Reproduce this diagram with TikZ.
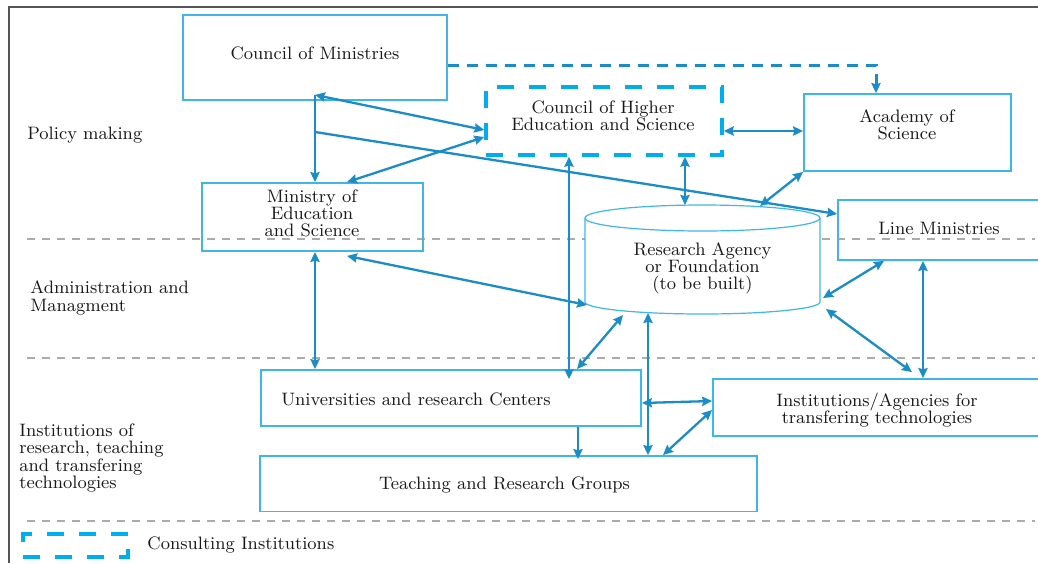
\documentclass[tikz,border=0pt]{standalone}
\usetikzlibrary{arrows.meta}

\definecolor{boxblue}{HTML}{3DB7EA}
\definecolor{arrowblue}{HTML}{1A8CC7}
\definecolor{consult}{HTML}{00AEEF}
\definecolor{sepgray}{HTML}{ABABAB}
\definecolor{framegray}{HTML}{555555}

\tikzset{
  boxnode/.style={draw=boxblue, line width=0.9pt, inner sep=0pt},
  consultbox/.style={draw=consult, line width=1.7pt, dash pattern=on 8.5pt off 7.5pt, inner sep=0pt},
  txt/.style={font=\fontsize{9}{8.6}\selectfont, text=black!90, align=center, inner sep=0pt},
  link/.style={arrowblue, line width=1.15pt, {Stealth[length=5pt,width=4.6pt,inset=0.6pt]}-{Stealth[length=5pt,width=4.6pt,inset=0.6pt]}},
  onelink/.style={arrowblue, line width=1.15pt, -{Stealth[length=5pt,width=4.6pt,inset=0.6pt]}},
  sepline/.style={sepgray, line width=0.7pt, dash pattern=on 4pt off 3.5pt},
}

\begin{document}
\begin{tikzpicture}[x=0.5pt, y=0.5pt]
  \useasboundingbox (0,0) rectangle (1038,-563);
  \draw [framegray, line width=1pt] (8.5,-563) -- (8.5,-6.5) -- (1038,-6.5);
  \foreach \y in {239,358,521}
    \draw [sepline] (27,-\y) -- (1035,-\y);

  % levels
  \node [txt, anchor=west] (lvlpol) at (27,-135) {Policy making};
  \node [txt, anchor=west, align=left] (lvladm) at (30,-298) {Administration and\\Managment};
  \node [txt, anchor=west, align=left] (lvlinst) at (19,-458)
    {Institutions of\\research, teaching\\and transfering\\technologies};

  % boxes
  \node [boxnode, minimum width=132pt, minimum height=42.5pt] (com) at (315,-57.5) {};
  \node [txt] (comtxt) at (315,-53) {Council of Ministries};
  \node [consultbox, minimum width=118pt, minimum height=34pt] (ches) at (604,-121) {};
  \node [txt] (chestxt) at (603,-116) {Council of Higher\\Education and Science};
  \node [boxnode, minimum width=103.5pt, minimum height=38.5pt] (aos) at (907.5,-132.5) {};
  \node [txt] (aostxt) at (907,-125) {Academy of\\Science};
  \node [boxnode, minimum width=105pt, minimum height=30pt] (lm) at (943,-230) {};
  \node [txt] (lmtxt) at (939,-228) {Line Ministries};
  \node [boxnode, minimum width=110.5pt, minimum height=34pt] (mes) at (312.5,-217) {};
  \node [txt] (mestxt) at (312,-213.5) {Ministry of\\Education\\and Science};
  \node [boxnode, minimum width=190pt, minimum height=28pt] (uni) at (451,-398) {};
  \node [txt] (unitxt) at (416,-399) {Universities and research Centers};
  \node [boxnode, minimum width=167.5pt, minimum height=28.5pt] (iat) at (880.5,-407.5) {};
  \node [txt] (iattxt) at (877,-410) {Institutions/Agencies for\\transfering technologies};
  \node [boxnode, minimum width=248.5pt, minimum height=27.75pt] (trg) at (508.5,-483.75) {};
  \node [txt] (trgtxt) at (504.5,-485) {Teaching and Research Groups};

  % research agency
  \draw [boxblue, line width=0.6pt, fill=white]
  (585,-218) -- (585,-302) arc (180:360:117.5 and 12) -- (820,-218);
  \draw [boxblue, line width=0.6pt, fill=white] (702.5,-218) ellipse (117.5 and 13);
  \node [txt] (ratxt) at (702.5,-268) {Research Agency\\or Foundation\\(to be built)};
  \coordinate (ra-top) at (685,-205);
  \coordinate (ra-topr) at (760,-206);
  \coordinate (ra-left) at (587,-305);
  \coordinate (ra-bot) at (623,-315);
  \coordinate (ra-botm) at (648,-313);
  \coordinate (ra-right) at (823,-298);
  \coordinate (ra-botr) at (826,-309);

  % legend
  \node [consultbox, minimum width=52.5pt, minimum height=11.5pt] (legbox) at (75.5,-545.5) {};
  \node [txt, anchor=west] (legtxt) at (147,-545) {Consulting Institutions};

  % connectors
  \draw [onelink, line width=1.5pt, dash pattern=on 5.5pt off 4pt]
  ([yshift=-3.75pt]com.east) -| ([xshift=-15.75pt]aos.north);
  \draw [arrowblue, line width=1.15pt]
  ([yshift=3pt]com.south) coordinate (cm) -- (cm |- 0,-132) coordinate (cb);
  \draw [onelink] (cb) -- (cm |- mes.north);
  \draw [link] (cm) -- ([yshift=-4.5pt]ches.west);
  \draw [onelink] (cb) -- ([yshift=8pt]lm.west);
  \draw [link] ([xshift=17.25pt]mes.north) -- ([yshift=-8pt]ches.west);
  \draw [link] ([yshift=-5pt]ches.east) -- ([yshift=0.75pt]aos.west);
  \draw [link] ([xshift=40.5pt]ches.south) -- (ra-top);
  \draw [link] (ra-topr) -- (aos.south west);
  \draw [link] ([xshift=-17.5pt]ches.south) -- ([xshift=59pt,yshift=-5pt]uni.north);
  \draw [link] ([xshift=1.25pt]mes.south) -- ([xshift=-68pt]uni.north);
  \draw [link] ([xshift=17.25pt,yshift=-2pt]mes.south) -- (ra-left);
  \draw [link] (ra-bot) -- ([xshift=63pt]uni.north);
  \draw [link] (ra-botm) -- ([xshift=69.75pt]trg.north);
  \draw [link] (ra-right) -- ([xshift=-29.5pt]lm.south);
  \draw [link] (ra-botr) -- ([xshift=15.75pt,yshift=3pt]iat.north);
  \draw [link] ([xshift=-10pt]lm.south) -- ([xshift=21.25pt]iat.north);
  \draw [link] ([yshift=-2.5pt]uni.east) -- ([yshift=3.25pt]iat.west);
  \draw [onelink] ([xshift=63.5pt]uni.south) -- ([xshift=34.75pt,yshift=-2pt]trg.north);
  \draw [link] ([xshift=77.25pt]trg.north) -- ([yshift=-1.25pt]iat.west);
\end{tikzpicture}
\end{document}
